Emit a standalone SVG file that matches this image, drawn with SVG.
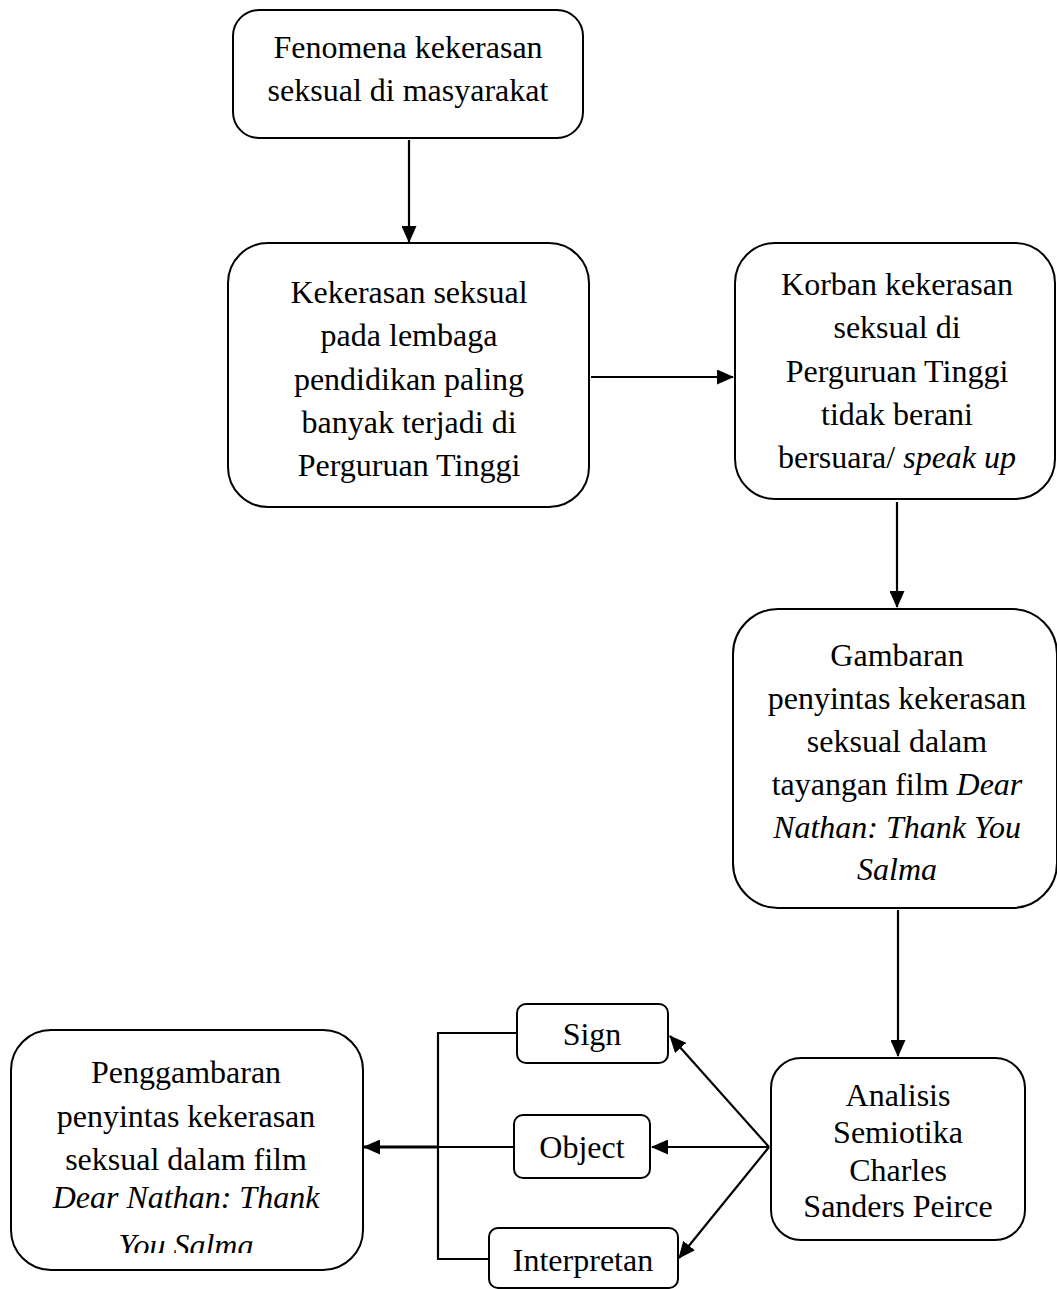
<svg xmlns="http://www.w3.org/2000/svg" width="1057" height="1289" viewBox="0 0 1057 1289">
<style>
.box{fill:#fff;stroke:#000;stroke-width:2}
.t{font-family:"Liberation Serif","Times New Roman",serif;font-size:32px;fill:#000;text-anchor:middle}
.i{font-style:italic}
.c{fill:none;stroke:#000;stroke-width:2.2}
</style>
<defs>
<marker id="ahL" markerWidth="17" markerHeight="15" refX="16" refY="7.5" orient="auto" markerUnits="userSpaceOnUse" viewBox="0 0 17 15">
<path d="M0,0 L17,7.5 L0,15 z" fill="#000"/>
</marker>
<clipPath id="clipP"><rect x="11" y="1030" width="352" height="223"/></clipPath>
</defs>
<g id="connectors">
<line class="c" x1="409" y1="140" x2="409" y2="242" marker-end="url(#ahL)"/>
<line class="c" x1="591" y1="377" x2="733" y2="377" marker-end="url(#ahL)"/>
<line class="c" x1="897" y1="502" x2="897" y2="607" marker-end="url(#ahL)"/>
<line class="c" x1="898" y1="910" x2="898" y2="1056" marker-end="url(#ahL)"/>
<line class="c" x1="769" y1="1147" x2="670" y2="1036" marker-end="url(#ahL)"/>
<line class="c" x1="769" y1="1147" x2="652" y2="1147" marker-end="url(#ahL)"/>
<line class="c" x1="769" y1="1147" x2="679" y2="1258" marker-end="url(#ahL)"/>
<polyline class="c" points="517,1033 438,1033 438,1259 489,1259"/>
<line class="c" x1="514" y1="1147" x2="438" y2="1147"/>
<line x1="438" y1="1147" x2="364" y2="1147" stroke="#000" stroke-width="3" marker-end="url(#ahL)"/>
</g>
<g id="n1">
<rect class="box" x="233" y="10" width="350" height="128" rx="26"/>
<text class="t" x="408" y="58">Fenomena kekerasan</text>
<text class="t" x="408" y="101">seksual di masyarakat</text>
</g>
<g id="n2">
<rect class="box" x="228" y="243" width="361" height="264" rx="40"/>
<text class="t" x="409" y="303">Kekerasan seksual</text>
<text class="t" x="409" y="346">pada lembaga</text>
<text class="t" x="409" y="390">pendidikan paling</text>
<text class="t" x="409" y="433">banyak terjadi di</text>
<text class="t" x="409" y="476">Perguruan Tinggi</text>
</g>
<g id="n3">
<rect class="box" x="735" y="243" width="320" height="256" rx="40"/>
<text class="t" x="897" y="295">Korban kekerasan</text>
<text class="t" x="897" y="338">seksual di</text>
<text class="t" x="897" y="382">Perguruan Tinggi</text>
<text class="t" x="897" y="425">tidak berani</text>
<text class="t" x="897" y="468">bersuara/ <tspan class="i">speak up</tspan></text>
</g>
<g id="n4">
<rect class="box" x="733" y="609" width="324" height="299" rx="45"/>
<text class="t" x="897" y="666">Gambaran</text>
<text class="t" x="897" y="709">penyintas kekerasan</text>
<text class="t" x="897" y="752">seksual dalam</text>
<text class="t" x="897" y="795">tayangan film <tspan class="i">Dear</tspan></text>
<text class="t i" x="897" y="838">Nathan: Thank You</text>
<text class="t i" x="897" y="880">Salma</text>
</g>
<g id="n5">
<rect class="box" x="771" y="1058" width="254" height="182" rx="30"/>
<text class="t" x="898" y="1106">Analisis</text>
<text class="t" x="898" y="1143">Semiotika</text>
<text class="t" x="898" y="1181">Charles</text>
<text class="t" x="898" y="1217">Sanders Peirce</text>
</g>
<g id="sign">
<rect class="box" x="517" y="1004" width="151" height="59" rx="9"/>
<text class="t" x="592" y="1045">Sign</text>
</g>
<g id="object">
<rect class="box" x="514" y="1115" width="136" height="63" rx="9"/>
<text class="t" x="582" y="1158">Object</text>
</g>
<g id="interpretan">
<rect class="box" x="489" y="1228" width="189" height="60" rx="9"/>
<text class="t" x="583" y="1271">Interpretan</text>
</g>
<g id="n6">
<rect class="box" x="11" y="1030" width="352" height="240" rx="40"/>
<g clip-path="url(#clipP)">
<text class="t" x="186" y="1083">Penggambaran</text>
<text class="t" x="186" y="1127">penyintas kekerasan</text>
<text class="t" x="186" y="1170">seksual dalam film</text>
<text class="t i" x="186" y="1208">Dear Nathan: Thank</text>
<text class="t i" x="186" y="1256">You Salma</text>
</g>
</g>
</svg>
